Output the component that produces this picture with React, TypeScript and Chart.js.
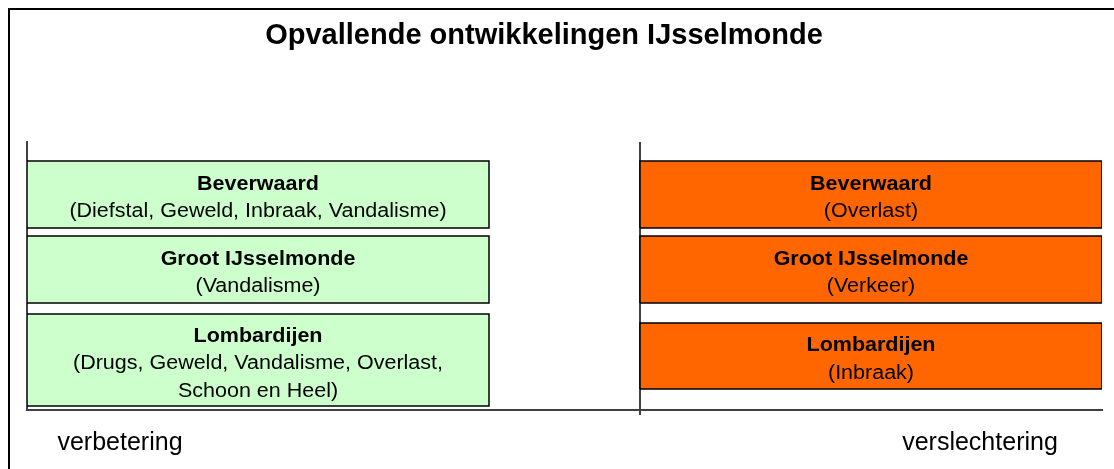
import React, { useEffect, useRef } from 'react';
import { Chart, registerables } from 'chart.js';

Chart.register(...registerables);

const chartTitle = 'Opvallende ontwikkelingen IJsselmonde';
const areaNames = ['Beverwaard', 'Groot IJsselmonde', 'Lombardijen'];
const improvedThemes = [
  ['(Diefstal, Geweld, Inbraak, Vandalisme)'],
  ['(Vandalisme)'],
  ['(Drugs, Geweld, Vandalisme, Overlast,', 'Schoon en Heel)'],
];
const worsenedThemes = [['(Overlast)'], ['(Verkeer)'], ['(Inbraak)']];
const improvedX = [-6.13, -1.51];
const worsenedX = [0, 4.62];
const improvedY = [
  [18.2, 24.9],
  [10.7, 17.4],
  [0.4, 9.6],
];
const worsenedY = [
  [18.2, 24.9],
  [10.7, 17.4],
  [2.1, 8.7],
];
const axisLabels = ['verbetering', 'verslechtering'];
const axisLabelValues = [-5.2, 3.4];
const xMin = -6.13;
const xMax = 4.62;
const yMin = 0;
const yMax = 26.8;

const FONT = "'Liberation Sans', Arial, Helvetica, sans-serif";
const GREEN = '#ccffcc';
const ORANGE = '#ff6600';
const AXIS = '#404040';

function rect(xr: number[], yr: number[]) {
  return [
    { x: xr[0], y: yr[0] },
    { x: xr[1], y: yr[0] },
    { x: xr[1], y: yr[1] },
    { x: xr[0], y: yr[1] },
    { x: xr[0], y: yr[0] },
  ];
}

const boxLabels = {
  id: 'boxLabels',
  afterDatasetsDraw(chart: any) {
    const { ctx, scales } = chart;
    const x = scales.x;
    const y = scales.y;
    const groups: [number[], number[][], string[][]][] = [
      [improvedX, improvedY, improvedThemes],
      [worsenedX, worsenedY, worsenedThemes],
    ];
    ctx.save();
    ctx.textAlign = 'center';
    ctx.textBaseline = 'middle';
    ctx.fillStyle = '#000';
    const lineH = 27.5;
    for (const [xr, yrs, themes] of groups) {
      for (let i = 0; i < areaNames.length; i++) {
        const lines = [areaNames[i], ...themes[i]];
        const cx = (x.getPixelForValue(xr[0]) + x.getPixelForValue(xr[1])) / 2;
        const cy = (y.getPixelForValue(yrs[i][0]) + y.getPixelForValue(yrs[i][1])) / 2;
        const start = cy - ((lines.length - 1) * lineH) / 2 + 3.5;
        lines.forEach((t, k) => {
          ctx.save();
          ctx.font = (k === 0 ? 'bold ' : '') + '20px ' + FONT;
          ctx.translate(cx, start + k * lineH);
          ctx.scale(1.075, 1);
          ctx.fillText(t, 0, 0);
          ctx.restore();
        });
      }
    }
    ctx.restore();
  },
};

export default function App() {
  const ref = useRef<HTMLCanvasElement | null>(null);

  useEffect(() => {
    if (!ref.current) return;
    const datasets: any[] = [];
    improvedY.forEach((yr) => {
      datasets.push({
        data: rect(improvedX, yr),
        showLine: true,
        fill: 'shape',
        backgroundColor: GREEN,
        borderColor: '#000',
        borderWidth: 1.5,
        pointRadius: 0,
        tension: 0,
        borderJoinStyle: 'miter',
      });
    });
    worsenedY.forEach((yr) => {
      datasets.push({
        data: rect(worsenedX, yr),
        showLine: true,
        fill: 'shape',
        backgroundColor: ORANGE,
        borderColor: '#000',
        borderWidth: 1.5,
        pointRadius: 0,
        tension: 0,
        borderJoinStyle: 'miter',
      });
    });

    const chart = new Chart(ref.current, {
      type: 'scatter',
      data: { datasets },
      options: {
        responsive: false,
        animation: false,
        events: [],
        layout: { padding: { left: -14, right: 12, top: 0, bottom: 0 } },
        plugins: {
          legend: { display: false },
          tooltip: { enabled: false },
          title: {
            display: true,
            text: chartTitle,
            color: '#000',
            font: { family: FONT, size: 29, weight: 'bold' },
            padding: { top: 19, bottom: 88.2 },
          },
        },
        scales: {
          x: {
            type: 'linear',
            min: xMin,
            max: xMax,
            afterFit: (s: any) => {
              s.height = 59;
            },
            afterBuildTicks: (s: any) => {
              s.ticks = [
                { value: axisLabelValues[0] },
                { value: 0 },
                { value: axisLabelValues[1] },
              ];
            },
            ticks: {
              autoSkip: false,
              maxRotation: 0,
              padding: 13,
              color: '#000',
              font: { family: FONT, size: 25 },
              callback: (v: any) => {
                const idx = axisLabelValues.indexOf(Number(v));
                return idx >= 0 ? axisLabels[idx] : '';
              },
            },
            grid: {
              display: true,
              drawOnChartArea: true,
              drawTicks: true,
              tickLength: 5,
              lineWidth: 2,
              color: (c: any) => (c.tick && c.tick.value === 0 ? AXIS : 'rgba(0,0,0,0)'),
              tickColor: (c: any) => (c.tick && c.tick.value === 0 ? AXIS : 'rgba(0,0,0,0)'),
            },
            border: { display: true, color: AXIS, width: 2 },
          },
          y: {
            type: 'linear',
            min: yMin,
            max: yMax,
            afterFit: (s: any) => {
              s.width = 41;
            },
            ticks: { display: false },
            grid: { display: false },
            border: { display: true, color: AXIS, width: 2 },
          },
        },
      },
      plugins: [boxLabels],
    });
    return () => chart.destroy();
  }, []);

  return (
    <div style={{ position: 'fixed', left: 0, top: 0, width: 1114, height: 469, background: '#fff', overflow: 'hidden' }}>
      <div
        style={{
          position: 'absolute',
          left: 8,
          top: 8,
          width: 1106,
          height: 461,
          boxSizing: 'border-box',
          borderTop: '2px solid #000',
          borderLeft: '2px solid #000',
        }}
      />
      <canvas ref={ref} width={1114} height={469} style={{ position: 'absolute', left: 0, top: 0 }} />
    </div>
  );
}
